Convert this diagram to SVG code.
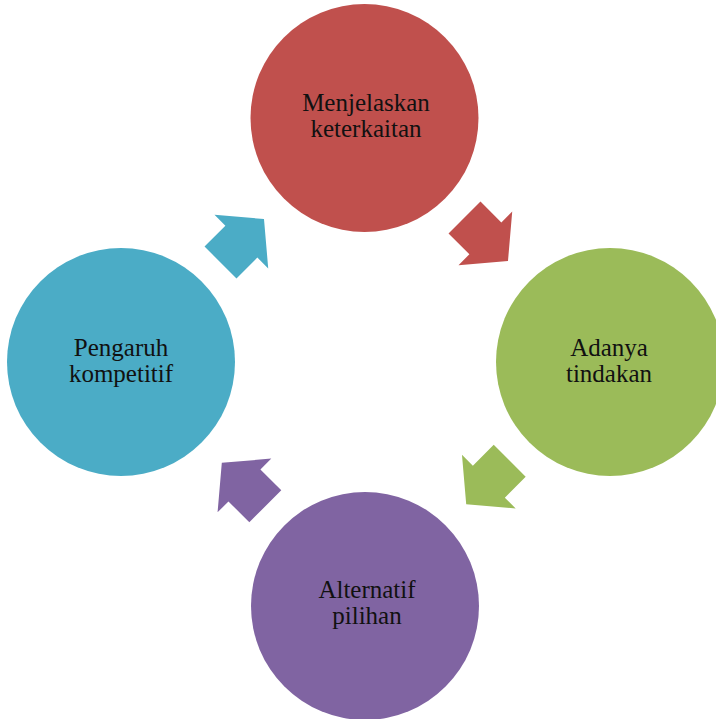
<svg xmlns="http://www.w3.org/2000/svg" width="716" height="719" viewBox="0 0 716 719">
<defs>
<style>
text{font-family:"Liberation Serif","Times New Roman",serif;font-size:25px;fill:#111;text-anchor:middle}
</style>
<path id="arr" d="M0,-22.6 L29.5,-22.6 L29.5,-38 L61.5,0 L29.5,38 L29.5,22.6 L0,22.6 Z"/>
</defs>
<rect width="716" height="719" fill="#fff"/>
<g id="connectors">
<use href="#arr" fill="#C0504D" transform="translate(464.5,217.5) rotate(45)"/>
<use href="#arr" fill="#9BBB59" transform="translate(509.7,460.8) rotate(135)"/>
<use href="#arr" fill="#8064A2" transform="translate(265.3,506.3) rotate(225)"/>
<use href="#arr" fill="#4BACC6" transform="translate(220.5,262.5) rotate(-45)"/>
</g>
<g id="node-menjelaskan">
<circle cx="364.5" cy="118" r="114" fill="#C0504D"/>
<text x="366" y="111">Menjelaskan</text>
<text x="366" y="137">keterkaitan</text>
</g>
<g id="node-adanya">
<circle cx="610" cy="362" r="114" fill="#9BBB59"/>
<text x="609" y="356">Adanya</text>
<text x="609" y="382">tindakan</text>
</g>
<g id="node-alternatif">
<circle cx="365" cy="606" r="114" fill="#8064A2"/>
<text x="367" y="598">Alternatif</text>
<text x="367" y="624">pilihan</text>
</g>
<g id="node-pengaruh">
<circle cx="121" cy="362" r="114" fill="#4BACC6"/>
<text x="121" y="356">Pengaruh</text>
<text x="121" y="382">kompetitif</text>
</g>
</svg>
